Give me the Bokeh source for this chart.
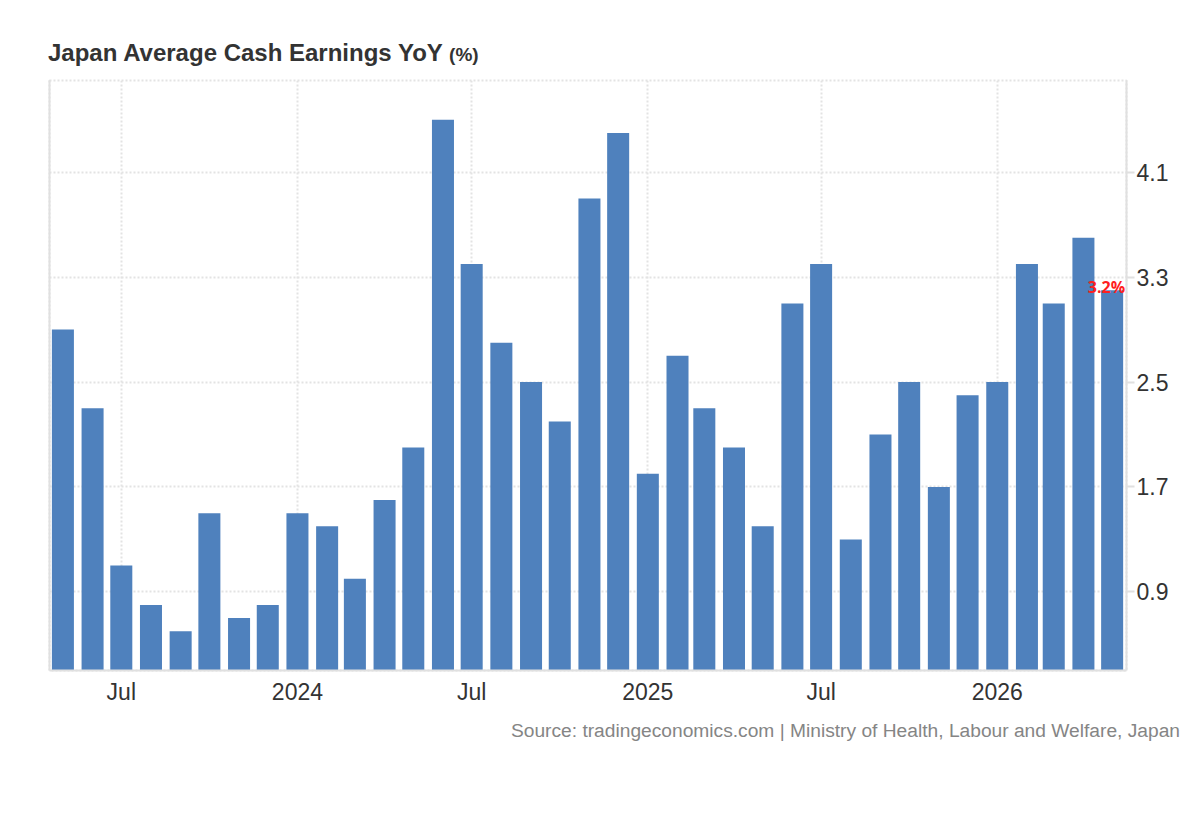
import pandas as pd
from datetime import datetime
from bokeh.plotting import figure
from bokeh.models import Range1d, LinearAxis, FixedTicker, Label, ColumnDataSource, Div
from bokeh.layouts import column
from bokeh.embed import file_html
from bokeh.resources import INLINE

# ---- data ----
months = pd.date_range("2023-05-01", periods=37, freq="MS")
values = [2.9, 2.3, 1.1, 0.8, 0.6, 1.5, 0.7, 0.8, 1.5, 1.4, 1.0, 1.6, 2.0,
          4.5, 3.4, 2.8, 2.5, 2.2, 3.9, 4.4, 1.8, 2.7, 2.3, 2.0, 1.4, 3.1,
          3.4, 1.3, 2.1, 2.5, 1.7, 2.4, 2.5, 3.4, 3.1, 3.6, 3.2]
x_tick_dates = ["2023-07-01", "2024-01-01", "2024-07-01", "2025-01-01", "2025-07-01", "2026-01-01"]
x_tick_labels = ["Jul", "2024", "Jul", "2025", "Jul", "2026"]
y_ticks = [0.9, 1.7, 2.5, 3.3, 4.1]
title_text = "Japan Average Cash Earnings YoY"
unit_text = "(%)"
source_text = "Source: tradingeconomics.com | Ministry of Health, Labour and Welfare, Japan"

BAR = "#4f81bd"
GRID = "#e3e3e3"
AXIS = "#e0e0e0"
FONT = "Liberation Sans"

W = 1192
TITLE_H = 70
FIG_H = 640
p = figure(width=W, height=FIG_H, output_backend="svg", toolbar_location=None,
           x_axis_type="datetime", x_axis_location=None, y_axis_location=None,
           x_range=Range1d(datetime(2023, 4, 17), datetime(2026, 5, 16)),
           y_range=Range1d(0.3, 4.8),
           min_border_left=49, min_border_right=66, min_border_top=10, min_border_bottom=40)
p.background_fill_color = "white"
p.border_fill_color = "white"
p.outline_line_color = GRID
p.outline_line_width = 2
p.outline_line_dash = "2 2"

src = ColumnDataSource(dict(x=months, top=values))
p.vbar(x="x", top="top", bottom=0.3, width=23 * 86400000, source=src,
       fill_color=BAR, line_color=None)

# x axis
tick_ms = [int(pd.Timestamp(d).value // 10**6) for d in x_tick_dates]
xaxis = LinearAxis(ticker=FixedTicker(ticks=tick_ms),
                   major_label_overrides={t: l for t, l in zip(tick_ms, x_tick_labels)})
xaxis.axis_line_color = AXIS
xaxis.axis_line_width = 2
xaxis.major_tick_out = 0
xaxis.major_tick_in = 0
xaxis.minor_tick_out = 0
xaxis.minor_tick_in = 0
xaxis.major_label_standoff = 8
xaxis.major_label_text_font = FONT
xaxis.major_label_text_font_size = "23px"
xaxis.major_label_text_color = "#333333"
p.add_layout(xaxis, "below")

# right y axis
yaxis = LinearAxis(ticker=FixedTicker(ticks=y_ticks))
yaxis.axis_line_color = AXIS
yaxis.axis_line_width = 2
yaxis.major_tick_line_color = AXIS
yaxis.major_tick_line_width = 2
yaxis.major_tick_out = 8
yaxis.major_tick_in = 0
yaxis.minor_tick_out = 0
yaxis.minor_tick_in = 0
yaxis.major_label_standoff = 2
yaxis.major_label_text_font = FONT
yaxis.major_label_text_font_size = "23px"
yaxis.major_label_text_color = "#333333"
p.add_layout(yaxis, "right")

# left plain axis line
laxis = LinearAxis(ticker=FixedTicker(ticks=[]))
laxis.axis_line_color = AXIS
laxis.axis_line_width = 2
laxis.major_tick_out = 0
laxis.major_tick_in = 0
laxis.minor_tick_out = 0
laxis.minor_tick_in = 0
p.add_layout(laxis, "left")

# grids
p.xgrid.ticker = FixedTicker(ticks=tick_ms)
p.ygrid.ticker = FixedTicker(ticks=y_ticks)
for g in (p.xgrid, p.ygrid):
    g.grid_line_color = GRID
    g.grid_line_width = 2
    g.grid_line_dash = "2 2"

# last value label
p.add_layout(Label(x=months[-1], y=values[-1], text=f"{values[-1]}%",
                   x_offset=13, y_offset=3, text_align="right", text_baseline="alphabetic",
                   text_font="Open Sans", text_font_style="bold", text_font_size="16px",
                   text_color="#ff2020"))

title_div = Div(
    text=(f'<div style="padding:38px 0 0 48px; font-family:\'{FONT}\'; font-weight:bold; '
          f'font-size:24px; line-height:30px; color:#333333; white-space:nowrap;">'
          f'{title_text} <span style="font-size:19px;">{unit_text}</span></div>'),
    width=W, height=TITLE_H, margin=0)
source_div = Div(
    text=(f'<div style="display:block; width:1180px; padding-top:10px; font-family:\'{FONT}\'; '
          f'font-size:19.2px; line-height:22px; color:#858585; text-align:right; '
          f'white-space:nowrap;">{source_text}</div>'),
    width=W, height=50, margin=0)

layout = column(title_div, p, source_div, spacing=0)
open("out.html", "w").write(file_html(layout, INLINE))
